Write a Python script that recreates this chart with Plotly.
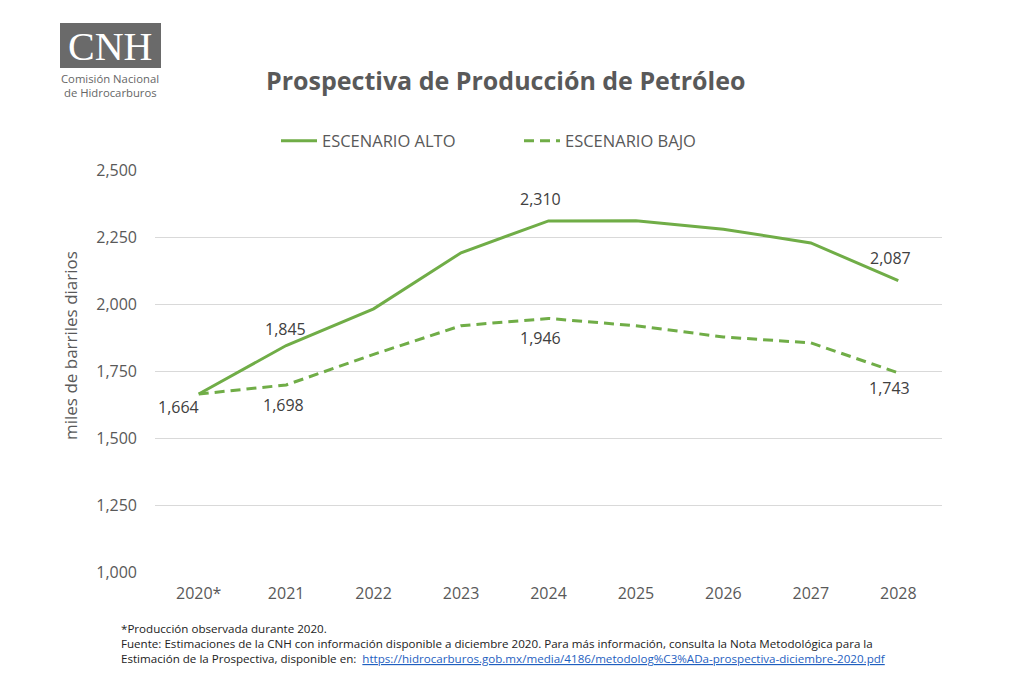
import plotly.graph_objects as go

years = ["2020*", "2021", "2022", "2023", "2024", "2025", "2026", "2027", "2028"]
alto = [1664, 1845, 1982, 2191, 2310, 2311, 2279, 2228, 2087]
bajo = [1664, 1698, 1812, 1919, 1946, 1919, 1877, 1855, 1743]
y_ticks = [1000, 1250, 1500, 1750, 2000, 2250, 2500]

GREEN = "#70ad47"
TXT = "#595959"
FONT = "Open Sans"

W, H = 1024, 680
L, R, T, B = 155, 82, 170, 108
pw, ph = W - L - R, H - T - B

def px(x):
    return (x - L) / pw

def py(y):
    return (H - B - y) / ph

xs_idx = list(range(len(years)))

fig = go.Figure()
fig.add_trace(go.Scatter(x=xs_idx, y=alto, mode="lines", name="ESCENARIO ALTO",
                         line=dict(color=GREEN, width=3)))
fig.add_trace(go.Scatter(x=xs_idx, y=bajo, mode="lines", name="ESCENARIO BAJO",
                         line=dict(color=GREEN, width=3, dash="10px,6px")))

fig.update_layout(
    width=W, height=H,
    margin=dict(l=L, r=R, t=T, b=B),
    paper_bgcolor="white", plot_bgcolor="white",
    font=dict(family=FONT, color=TXT, size=14),
    showlegend=True,
    legend=dict(orientation="h", x=px(276), xanchor="left", y=py(141), yanchor="middle",
                font=dict(family=FONT, size=16.5, color=TXT), itemwidth=36,
                entrywidth=192, entrywidthmode="pixels"),
    xaxis=dict(range=[-0.5, len(years) - 0.5], tickvals=xs_idx, ticktext=years,
               showgrid=False, zeroline=False, showline=False,
               tickfont=dict(family=FONT, size=16, color=TXT), ticks="", ticklabelstandoff=10),
    yaxis=dict(range=[1000, 2500], tickvals=y_ticks, tickformat=",", showgrid=True,
               gridcolor="#d9d9d9", gridwidth=1, zeroline=False, showline=False,
               tickfont=dict(family=FONT, size=16, color=TXT), ticks="", ticklabelstandoff=17),
)

# data labels: (series, index, x shift, y shift)
labels = [(alto, 0, -20, -13), (alto, 1, -1, 17), (bajo, 1, -3, -20),
          (alto, 4, -8, 22), (bajo, 4, -8, -20), (alto, 8, -8, 23), (bajo, 8, -9, -15)]
for ser, i, dx, dy in labels:
    val = ser[i]
    fig.add_annotation(x=i, y=val, xref="x", yref="y", text=f"{val:,}", showarrow=False,
                       xanchor="center", yanchor="middle",
                       xshift=dx, yshift=dy, font=dict(family=FONT, size=16, color="#404040"))

# y-axis title
fig.add_annotation(x=px(70), y=py(346), xref="paper", yref="paper", text="miles de barriles diarios",
                   showarrow=False, textangle=-90, xanchor="center", yanchor="middle",
                   font=dict(family=FONT, size=17, color=TXT))

# chart title
fig.add_annotation(x=px(505), y=py(80), xref="paper", yref="paper",
                   text="<b>Prospectiva de Producción de Petróleo</b>", showarrow=False,
                   xanchor="center", yanchor="middle",
                   font=dict(family=FONT, size=25, color=TXT))

# logo
fig.add_shape(type="rect", xref="paper", yref="paper", x0=px(60), x1=px(161), y0=py(68), y1=py(23),
              fillcolor="#6a6a6a", line=dict(width=0), layer="below")
fig.add_annotation(x=px(110), y=py(46), xref="paper", yref="paper", text="CNH", showarrow=False,
                   xanchor="center", yanchor="middle",
                   font=dict(family="Liberation Serif", size=40, color="white"))
fig.add_annotation(x=px(110), y=py(79), xref="paper", yref="paper", text="Comisión Nacional",
                   showarrow=False, xanchor="center", yanchor="middle",
                   font=dict(family=FONT, size=11.3, color="#666666"))
fig.add_annotation(x=px(110), y=py(92), xref="paper", yref="paper", text="de Hidrocarburos",
                   showarrow=False, xanchor="center", yanchor="middle",
                   font=dict(family=FONT, size=11.3, color="#666666"))

# footnotes
foot = ["*Producción observada durante 2020.",
        "Fuente: Estimaciones de la CNH con información disponible a diciembre 2020. Para más información, consulta la Nota Metodológica para la",
        "Estimación de la Prospectiva, disponible en:  <span style='color:#1f5fbf'><u>https://hidrocarburos.gob.mx/media/4186/metodolog%C3%ADa-prospectiva-diciembre-2020.pdf</u></span>"]
for k, line in enumerate(foot):
    fig.add_annotation(x=px(119), y=py(628 + 15 * k), xref="paper", yref="paper", text=line,
                       showarrow=False, xanchor="left", yanchor="middle",
                       font=dict(family=FONT, size=11.6, color="#222222"))

fig.write_html("out.html")
